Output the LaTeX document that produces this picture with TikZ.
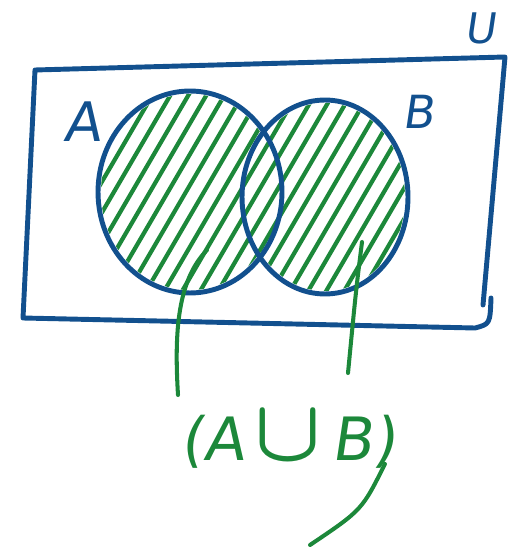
\documentclass[tikz,border=0pt]{standalone}
\usepackage{fontspec}
\newfontfamily\handfont[FakeSlant=0.15]{DejaVu Sans}
\usetikzlibrary{shapes.geometric,calc}
\definecolor{myBlue}{RGB}{18,80,142}
\definecolor{myGreen}{RGB}{28,136,58}
\tikzset{
	setline/.style={
		draw=myBlue,
		line width=2.8pt,
		line join=round,
		line cap=round
	},
	setcirc/.style={
		setline,
		ellipse,
		inner sep=0pt
	},
	setname/.style={
		text=myBlue,
		font=\handfont\fontsize{28}{30}\selectfont
	},
	hatch/.style={myGreen, line width=2.4pt, line cap=round},
	pointer/.style={myGreen, line width=2.3pt, line cap=round}
}

\begin{document}
\begin{tikzpicture}[x=0.02cm, y=-0.02cm]
		\useasboundingbox (0,0) rectangle (515,550);
		\begin{scope}
			\clip (190,192) ellipse [x radius=89, y radius=98]
				(325,197) ellipse [x radius=80, y radius=94];
			\foreach \s in {-60,-42,...,420}
				\draw[hatch] (\s,305) -- ++(140,-240);
		\end{scope}
		\node[setcirc, minimum width=3.68cm, minimum height=4.04cm] (setA) at (190,192) {};
		\node[setcirc, minimum width=3.32cm, minimum height=3.88cm] (setB) at (325,197) {};
		\draw[setline] (483,305) -- (505,57) -- (35,70) -- (23,318) -- (475,328)
			.. controls (490,324) .. (491,298);
		\node[setname, font=\handfont\fontsize{31}{33}\selectfont] (nameA) at (82,122) {A};
		\node[setname, font=\handfont\fontsize{26}{28}\selectfont] (nameB) at (418,112) {B};
		\node[setname, font=\handfont\fontsize{24}{26}\selectfont] (nameU) at (480,28) {U};
		\node[text=myGreen, font=\handfont\fontsize{34}{36}\selectfont] (union) at (288,440) {(A\,\scalebox{2}{\boldmath$\cup$}\,B)};
		\coordinate (pA) at (207,250);
		\coordinate (pB) at (362,242);
		\coordinate (endA) at (178,395);
		\coordinate (endB) at (348,373);
		\coordinate (tail) at (310,545);
		\draw[pointer] (pA) .. controls (178,280) and (174,330) .. (endA);
		\draw[pointer] (pB) .. controls (356,290) .. (endB);
		\draw[pointer] ($(union.east)+(-17,24)$) .. controls (362,510) .. (tail);
	\end{tikzpicture}
\end{document}
